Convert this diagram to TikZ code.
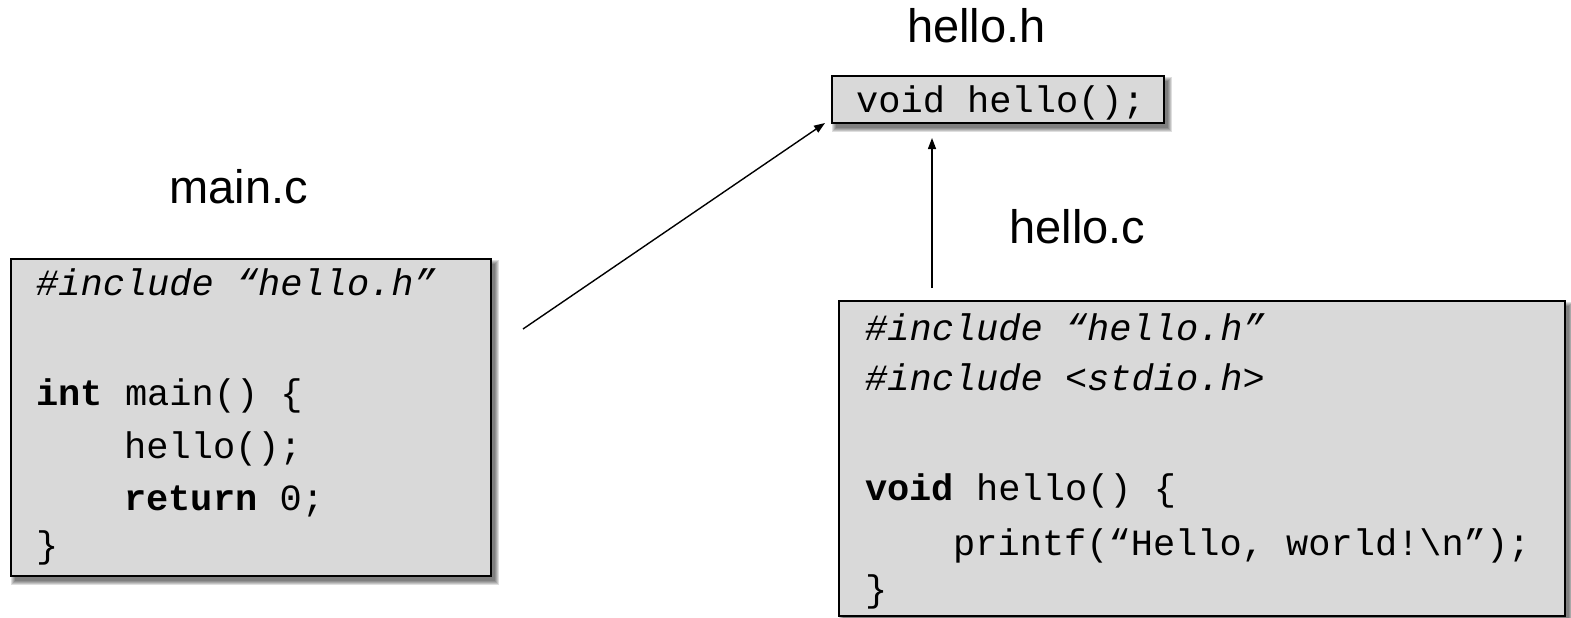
\documentclass[tikz,border=0pt]{standalone}
\usepackage{fontspec}
\setmainfont{Liberation Sans}
\setmonofont{Liberation Mono}
\usetikzlibrary{arrows.meta,backgrounds}
\definecolor{boxgray}{RGB}{217,217,217}
\newcommand{\softshadow}[1]{%
  \foreach \k in {0,1,2,3,4}{%
    \fill[black, opacity=0.13] ([shift={(4-\k,5-\k)}]#1.north west) rectangle ([shift={(4+\k,5+\k)}]#1.south east);}}
\begin{document}
\begin{tikzpicture}[x=1pt,y=-1pt,
  codebox/.style={draw=black, line width=1.5pt, fill=boxgray, anchor=north west, inner sep=0pt, outer sep=0pt},
  codeline/.style={anchor=base west, inner sep=0pt, font=\fontsize{37}{44}\selectfont\ttfamily},
  filelabel/.style={anchor=base, inner sep=0pt, font=\fontsize{47}{56}\selectfont},
  link/.style={line width=1.4pt, -{Triangle[length=11pt,width=8pt]}}]
\useasboundingbox (0,0) rectangle (1571,618);

% boxes
\node[codebox, minimum width=332pt, minimum height=47pt] (hbox) at (832,76) {};
\node[codebox, minimum width=480pt, minimum height=317pt] (mbox) at (11,259) {};
\node[codebox, minimum width=726pt, minimum height=315pt] (cbox) at (839,301) {};

\begin{pgfonlayer}{background}
  \softshadow{hbox}
  \softshadow{mbox}
  \softshadow{cbox}
\end{pgfonlayer}

% labels
\node[filelabel] (hlabel) at (976.5,43) {hello.h};
\node[filelabel] (mlabel) at (238.5,203) {main.c};
\node[filelabel] (clabel) at (1077.5,243) {hello.c};

% hello.h
\node[codeline] (h1) at (856,112) {void hello();};

% main.c
\node[codeline] (m1) at (36,295) {\itshape\#include “hello.h”};
\node[codeline] (m2) at (36,405) {{\bfseries int} main() \{};
\node[codeline] (m3) at (124,458) {hello();};
\node[codeline] (m4) at (124,510) {{\bfseries return} 0;};
\node[codeline] (m5) at (36,557) {\}};

% hello.c
\node[codeline] (c1) at (865,340) {\itshape\#include “hello.h”};
\node[codeline] (c2) at (865,390) {\itshape\#include <stdio.h>};
\node[codeline] (c3) at (865,500) {{\bfseries void} hello() \{};
\node[codeline] (c4) at (953,555) {printf(“Hello, world!\textbackslash n”);};
\node[codeline] (c5) at (865,601) {\}};

% connectors
\coordinate (mstart) at (523,329);
\coordinate (cstart) at (932,288);
\path (cstart |- hbox.south) ++(0,15) coordinate (cend);
\draw[link] (mstart) -- ([xshift=-7pt]hbox.south west);
\draw[link] (cstart) -- (cend);
\end{tikzpicture}
\end{document}
